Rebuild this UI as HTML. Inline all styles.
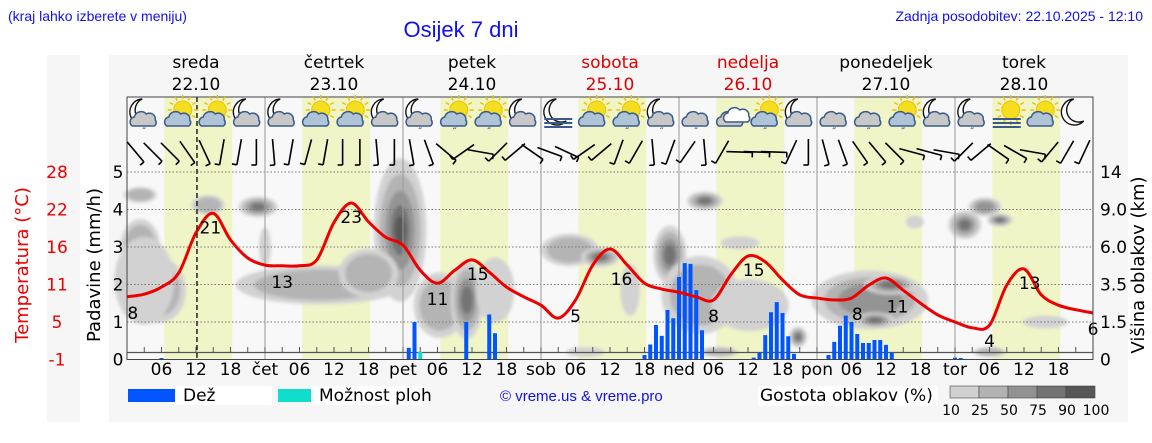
<!DOCTYPE html>
<html><head><meta charset="utf-8">
<style>
body{margin:0;background:#fff;width:1152px;height:443px;overflow:hidden;font-family:"Liberation Sans",sans-serif}
svg{display:block}
text{font-family:"DejaVu Sans","Liberation Sans",sans-serif}
.hd{font-family:"Liberation Sans",sans-serif}
</style></head><body>
<svg id="chart" width="1152" height="443" viewBox="0 0 1152 443" xmlns="http://www.w3.org/2000/svg">
<defs><filter id="blur" x="-50%" y="-50%" width="200%" height="200%"><feGaussianBlur stdDeviation="1.6"/></filter></defs>
<rect x="47" y="55" width="33" height="367" fill="#f6f6f6"/>
<rect x="109" y="55" width="1019" height="367" fill="#f6f6f6"/>
<text class="hd" x="8" y="21" font-size="14" fill="#1010ee">(kraj lahko izberete v meniju)</text>
<text class="hd" x="461" y="37" font-size="22" fill="#1010ee" text-anchor="middle">Osijek 7 dni</text>
<text class="hd" x="1143" y="21" font-size="14" fill="#1010ee" text-anchor="end">Zadnja posodobitev: 22.10.2025 - 12:10</text>
<g id="days"></g>
<g id="plot"></g>
<text x="28" y="265" font-size="18" fill="#ee0000" text-anchor="middle" transform="rotate(-90 28 265)">Temperatura (°C)</text>
<text x="100" y="265" font-size="18" fill="#000" text-anchor="middle" transform="rotate(-90 100 265)">Padavine (mm/h)</text>
<text x="1144" y="265" font-size="18" fill="#000" text-anchor="middle" transform="rotate(-90 1144 265)">Višina oblakov (km)</text>
<g>
<rect x="128" y="389" width="47" height="13" fill="#0055ff"/>
<rect x="176" y="386" width="96" height="19" fill="#fff"/>
<text x="183" y="401" font-size="17">Dež</text>
<rect x="278" y="389" width="33" height="13" fill="#11ddcc"/>
<rect x="311" y="386" width="111" height="19" fill="#fff"/>
<text x="319" y="401" font-size="17">Možnost ploh</text>
<text class="hd" x="500" y="401" font-size="15" fill="#1010ee">© vreme.us &amp; vreme.pro</text>
<rect x="758" y="386" width="180" height="20" fill="#fff"/>
<text x="760" y="401" font-size="17">Gostota oblakov (%)</text>
<g id="scale"></g>
</g>
</svg>
<script>
// ---- data ----
const dayNames=["sreda","četrtek","petek","sobota","nedelja","ponedeljek","torek"];
const dayDates=["22.10","23.10","24.10","25.10","26.10","27.10","28.10"];
const dayAbbr=["","čet","pet","sob","ned","pon","tor"];
const weekend=[false,false,false,true,true,false,false];
const precipTicks=[0,1,2,3,4,5];
const tempTicks=["-1","5","11","16","22","28"];
const heightTicks=["0","1.5","3.5","6.0","9.0","14"];
const tempHours=[0,3,6,9,12,15,18,21,24,27,30,33,36,39,42,45,48,51,54,57,60,63,66,69,72,75,78,81,84,87,90,93,96,99,102,105,108,111,114,117,120,123,126,129,132,135,138,141,144,147,150,153,156,159,162,165,168];
const tempValues=[8.7,9.1,10.2,12.4,18.6,21.6,17.5,14.7,13.6,13.5,13.5,14.4,20.2,23.2,20.3,17.9,16.7,12.8,10.8,12.8,14.4,12.5,10.2,8.7,7.4,5.4,8.2,13.6,16.1,13.6,10.8,9.9,9.4,8.7,8.2,12.1,15.0,14.1,11.3,9.0,8.5,8.2,8.5,10.5,11.6,9.7,7.7,5.9,4.8,3.9,4.3,10.5,13.0,9.0,7.4,6.7,6.2];
const tempLabelHours=[1,14.5,27,39,54,61,78,86,102,109,127,134,150,157,168];
const tempLabels=["8","21","13","23","11","15","5","16","8","15","8","11","4","13","6"];
const tempLabelOffsets=[1,-1,1,-1,1,-1,1,-1,1,-1,1,1,1,-1,1];
const rainHours=[6,49,50,59,63,64,90,91,92,93,94,95,96,97,98,99,100,109,110,111,112,113,114,115,116,122,123,124,125,126,127,128,129,130,131,132,133,144,145];
const rainValues=[0.04,0.31,1.0,1.0,1.2,0.7,0.12,0.4,0.92,0.63,1.32,1.1,2.2,2.57,2.55,1.85,0.78,0.05,0.18,0.65,1.26,1.53,1.24,0.62,0.15,0.12,0.47,0.9,1.17,1.0,0.68,0.44,0.44,0.52,0.52,0.39,0.18,0.05,0.04];
const showerHours=[50,51];
const showerValues=[0.2,0.2];
const cloudHour=[2.3,2.3,5.7,14.1,22.8,33.6,47.5,54.4,59.1,64,77,82.3,87.5,94.4,100.5,99.7,108.3,106.6,116.7,129.2,132.7,130.1,137,145.7,149.2,151.8,150,159.7,79.7,103,3,42,24];
const cloudLevel=[3.05,4.39,1.85,4.12,4.07,1.99,3.45,1.45,1.59,1.85,2.92,2.73,1.85,2.79,4.23,1.72,1.45,3.11,0.6,1.59,1.99,1.05,3.67,3.59,4.07,3.72,0.2,1.0,0.2,0.2,2.1,2.3,3.0];
const cloudSpreadH=[2.6,2.2,3.5,2.2,2.6,11.3,3.5,3.5,2.2,2.6,3.9,2.6,1.3,2.2,2.4,5.2,5.2,2.6,1.2,7.8,3.5,2.6,1.2,2.2,2.2,1.7,2.2,3,2.6,2.6,4,4,0.8];
const cloudSpreadV=[0.53,0.16,0.67,0.2,0.21,0.4,1.47,0.67,0.8,0.67,0.33,0.2,0.53,0.6,0.19,0.8,0.53,0.13,0.21,0.6,0.2,0.16,0.13,0.29,0.19,0.13,0.1,0.13,0.1,0.1,0.9,0.5,0.4];
const cloudDensity=[45,50,45,50,75,45,85,45,75,40,50,70,40,75,75,45,40,35,75,60,75,70,40,70,65,70,45,35,40,50,40,45,35];
const iconTypes=["mcr","sc","sc","mc","mc","sc","sc","mc","mcr","scr","scr","mc","mf","sc","scr","mcr","cr","cc","scr","mc","cr","cr","scr","mc","mcr","sf","sc","m"];
const windAngles=[40,45,45,35,25,-10,-10,0,5,-10,-15,-10,0,0,5,0,10,20,50,-55,80,-45,-50,55,70,65,-55,-50,-20,-30,5,-20,-35,5,-30,88,88,88,-25,0,15,20,35,40,45,75,75,80,-45,-50,55,60,80,-40,-30,-25];
const scaleLabels=["10","25","50","75","90","100"];
const scaleColors=["#d0d0d0","#b2b2b2","#929292","#737373","#565656"];

// ---- scales ----
const X0=127,X1=1093,PT=97,PB=359.5,PXH=(1093-127)/168;
const xh=h=>X0+h*PXH;
const yP=v=>PB-v*37.5;
const yT=t=>PB-(t+1)*(187.5/29);
const NS="http://www.w3.org/2000/svg";
function mk(tag,attrs,parent,txt){const e=document.createElementNS(NS,tag);for(const k in attrs)e.setAttribute(k,attrs[k]);if(txt!==undefined)e.textContent=txt;parent.appendChild(e);return e;}
const plot=document.getElementById('plot');
const days=document.getElementById('days');

dayNames.forEach((n,i)=>{
  const c=xh(i*24+12),col=weekend[i]?"#dd0000":"#000";
  const t1=mk('text',{x:c,y:68,'font-size':17,'text-anchor':'middle',fill:col},days,n);
  
  
  const t2=mk('text',{x:c,y:90,'font-size':17,'text-anchor':'middle',fill:col},days,dayDates[i]);
  
  
});

const bg=mk('rect',{x:X0,y:PT,width:X1-X0,height:PB-PT,fill:'#f8f8f8'},plot);


for(let d=0;d<7;d++){
  const r=mk('rect',{x:xh(d*24+6.5),y:PT,width:(11.8)*PXH,height:PB-PT,fill:'#f0f5c8'},plot);
  
  
}
const cg=mk('g',{filter:'url(#blur)'},plot);


const SP=1.3;
cloudHour.forEach((h,i)=>{
  const d=cloudDensity[i]/100;
  const levels=[[1.0,'#d2d2d2'],[0.78,'#b4b4b4'],[0.55,'#949494'],[0.35,'#737373'],[0.2,'#585858']];
  levels.forEach((lv,j)=>{
    if(j>0 && d<0.3+j*0.12) return;
    const e=mk('ellipse',{cx:xh(h),cy:yP(cloudLevel[i]),rx:cloudSpreadH[i]*PXH*lv[0]*SP,ry:cloudSpreadV[i]*37.5*lv[0]*SP,fill:lv[1]},cg);
    
    
  });
});
precipTicks.forEach(v=>{
  if(v>0){const l=mk('line',{x1:X0,x2:X1,y1:yP(v),y2:yP(v),stroke:'#777','stroke-dasharray':'1.5,2','stroke-width':1},plot);
  
  }
  const t=mk('text',{x:118,y:yP(v)+6,'font-size':17,'text-anchor':'middle'},plot,String(v));
  
  
});
tempTicks.forEach((v,i)=>{
  const t=mk('text',{x:57,y:yP(i)+6,'font-size':17,'text-anchor':'middle',fill:'#ee0000'},plot,v);
  
  
});
heightTicks.forEach((v,i)=>{
  const t=mk('text',{x:1100,y:yP(i)+6,'font-size':17},plot,v);
  
  
});
for(let d=1;d<7;d++){
  const l=mk('line',{x1:xh(d*24),x2:xh(d*24),y1:PT,y2:PB,stroke:'#999','stroke-width':1},plot);
  
  
}
const bl=mk('line',{x1:X0,x2:X1,y1:352.5,y2:352.5,stroke:'#555','stroke-width':1.2},plot);


for(let h=3;h<168;h+=3){
  const tk=mk('line',{x1:xh(h),x2:xh(h),y1:347,y2:352.5,stroke:'#555'},plot);
  
  
}
for(let h=6;h<168;h+=6){
  const d=Math.floor(h/24),hr=h%24;
  const lab=hr===0?dayAbbr[d]:(hr<10?'0'+hr:String(hr));
  const t=mk('text',{x:xh(h),y:375,'font-size':17,'text-anchor':'middle'},plot,lab);
  
  
}
showerHours.forEach((h,i)=>{
  const r=mk('rect',{x:xh(h)-2,y:yP(showerValues[i]),width:4,height:PB-yP(showerValues[i]),fill:'#11ddcc'},plot);
  
  
});
rainHours.forEach((h,i)=>{
  const r=mk('rect',{x:xh(h)-2,y:yP(rainValues[i]),width:4,height:PB-yP(rainValues[i]),fill:'#0055ff'},plot);
  
  
});
const pts=tempHours.map((h,i)=>[xh(h),yT(tempValues[i])]);
let d='M'+pts[0][0]+','+pts[0][1];
for(let i=0;i<pts.length-1;i++){
  const p0=pts[i-1]||pts[i],p1=pts[i],p2=pts[i+1],p3=pts[i+2]||p2;
  d+=' C'+(p1[0]+(p2[0]-p0[0])/6)+','+(p1[1]+(p2[1]-p0[1])/6)+' '+(p2[0]-(p3[0]-p1[0])/6)+','+(p2[1]-(p3[1]-p1[1])/6)+' '+p2[0]+','+p2[1];
}
const tl=mk('path',{d:d,fill:'none',stroke:'#ee0000','stroke-width':3},plot);


tempLabelHours.forEach((h,i)=>{
  let k=0;for(let j=0;j<tempHours.length;j++){if(Math.abs(tempHours[j]-h)<Math.abs(tempHours[k]-h))k=j;}
  const y=yT(tempValues[k])+(tempLabelOffsets[i]>0?22:20);
  const t=mk('text',{x:xh(h),y:y,'font-size':17,'text-anchor':'middle'},plot,tempLabels[i]);
  
  
});
const ct=mk('line',{x1:xh(12.17),x2:xh(12.17),y1:PT,y2:PB,stroke:'#222','stroke-width':1.5,'stroke-dasharray':'5,3'},plot);


const fr=mk('rect',{x:X0,y:PT,width:X1-X0,height:PB-PT,fill:'none',stroke:'#444','stroke-width':1},plot);


iconTypes.forEach((tp,i)=>{
  const cx=xh(i*6+3),cy=115;
  const g=mk('g',{},plot);
  
  
  if(tp[0]==='m'){
    mk('path',{d:`M${cx-2},${cy-16} A13,13 0 1 0 ${cx+8},${cy+6} A10,10 0 1 1 ${cx-2},${cy-16}Z`,fill:'#fff',stroke:'#111','stroke-width':1.4},g);
  } else if(tp[0]==='s'){
    mk('circle',{cx:cx+4,cy:cy-5,r:9,fill:'#f5dd20',stroke:'#f0c000'},g);
    for(let a=0;a<12;a++){const an=a*Math.PI/6;mk('line',{x1:cx+4+Math.cos(an)*11,y1:cy-5+Math.sin(an)*11,x2:cx+4+Math.cos(an)*15,y2:cy-5+Math.sin(an)*15,stroke:'#f0c000','stroke-width':1.5},g);}
  }
  if(tp.indexOf('c')>0||tp[0]==='c'){
    const dark=tp[0]==='m'||tp[0]==='c';
    mk('path',{d:`M${cx-12},${cy+11} a5,5 0 0 1 2,-9 a7,7 0 0 1 12,-3 a6,6 0 0 1 9,6 a4,4 0 0 1 -1,6 z`,fill:dark?'#c8c8c8':'#b0c4d8',stroke:'#3a5a8a','stroke-width':1.5},g);
  }
  if(tp[1]==='c'&&tp[0]==='c'){
    mk('path',{d:`M${cx-5},${cy+7} a5,5 0 0 1 2,-9 a7,7 0 0 1 12,-3 a6,6 0 0 1 9,6 a4,4 0 0 1 -1,6 z`,fill:'#fff',stroke:'#3a5a8a','stroke-width':1.5},g);
  }
  if(tp.indexOf('r')>0){
    mk('text',{x:cx,y:cy+19,'font-size':9,'text-anchor':'middle',fill:'#3a5a8a','font-weight':'bold'},g,'\u2033');
  }
  if(tp.indexOf('f')>0){
    [8,12,16].forEach(o=>mk('line',{x1:cx-14,x2:cx+14,y1:cy+o-4,y2:cy+o-4,stroke:'#3a5a8a','stroke-width':2},g));
  }
});
windAngles.forEach((a,i)=>{
  const cx=xh(i*3+1.5),cy=152,L=13,r=a*Math.PI/180;
  const dx=Math.sin(r)*L,dy=Math.cos(r)*L;
  const g=mk('g',{stroke:'#000','stroke-width':1.6},plot);
  
  
  mk('line',{x1:cx-dx,y1:cy-dy,x2:cx+dx,y2:cy+dy},g);
  mk('line',{x1:cx+dx,y1:cy+dy,x2:cx+dx-Math.cos(r)*5,y2:cy+dy+Math.sin(r)*5},g);
});
const sc=document.getElementById('scale');
scaleColors.forEach((c,i)=>{
  const r=mk('rect',{x:950+i*29,y:386,width:29,height:12,fill:c,stroke:'#444','stroke-width':0.6},sc);
  
  
});
scaleLabels.forEach((l,i)=>{
  const t=mk('text',{x:951+i*29,y:415,'font-size':14,'text-anchor':'middle'},sc,l);
  
  
});
</script>
</body></html>
